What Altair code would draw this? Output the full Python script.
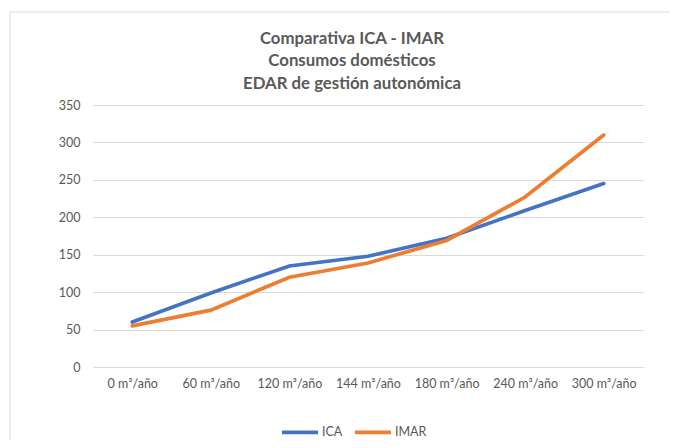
import altair as alt
import pandas as pd

categories = ["0 m³/año", "60 m³/año", "120 m³/año", "144 m³/año", "180 m³/año", "240 m³/año", "300 m³/año"]
ica = [60, 99, 135, 148, 172, 209, 245]
imar = [55, 76, 120, 139, 169, 227, 310]
series = ["ICA", "IMAR"]

rows = []
for s, vals in zip(series, [ica, imar]):
    for c, v in zip(categories, vals):
        rows.append({"cat": c, "value": v, "serie": s})
df = pd.DataFrame(rows)

FONT = "Lato"
GREY = "#595959"

lines = alt.Chart(df).mark_line(strokeWidth=3.7, strokeCap="round").encode(
    x=alt.X("cat:N", sort=categories, title=None,
            scale=alt.Scale(type="point", padding=0.5),
            axis=alt.Axis(labelAngle=0, ticks=False, domain=False, grid=False,
                          labelColor=GREY, labelFont=FONT, labelFontSize=12.5,
                          labelPadding=10)),
    y=alt.Y("value:Q", title=None,
            scale=alt.Scale(domain=[0, 350], nice=False),
            axis=alt.Axis(values=[0, 50, 100, 150, 200, 250, 300, 350], ticks=False,
                          domain=False, gridColor="#d9d9d9", gridWidth=1,
                          labelColor=GREY, labelFont=FONT, labelFontSize=12.5,
                          labelPadding=13)),
    color=alt.Color("serie:N", sort=series,
                    scale=alt.Scale(domain=series, range=["#4472C4", "#ED7D31"]),
                    legend=alt.Legend(title=None, orient="none", direction="horizontal",
                                      legendX=187, legendY=307,
                                      symbolType="stroke", symbolSize=1300,
                                      symbolStrokeWidth=3.7,
                                      labelFont=FONT, labelFontSize=12.5,
                                      labelColor=GREY, columnPadding=4,
                                      labelOffset=2)),
)

frame_data = alt.Data(values=[{"k": 1}])
left_border = alt.Chart(frame_data).mark_rule(color="#dedbd6", strokeWidth=1).encode(
    x=alt.value(-83), y=alt.value(-93), y2=alt.value(335))
top_border = alt.Chart(frame_data).mark_rule(color="#dedbd6", strokeWidth=1).encode(
    x=alt.value(-83), x2=alt.value(577), y=alt.value(-93))

chart = alt.layer(left_border, top_border, lines).properties(
    width=550, height=262,
    autosize=alt.AutoSizeParams(type="none"),
    padding={"left": 85, "top": 97, "right": 27, "bottom": 73},
    title=alt.TitleParams(
        text=["Comparativa ICA - IMAR", "Consumos domésticos", "EDAR de gestión autonómica"],
        font=FONT, fontSize=16.8, fontWeight="bold", color=GREY,
        anchor="middle", dx=-16, offset=-81, lineHeight=22.5),
).configure(background="white", view=alt.ViewConfig(stroke=None))

chart.save("out.html", embed_options={"renderer": "svg", "actions": False})
